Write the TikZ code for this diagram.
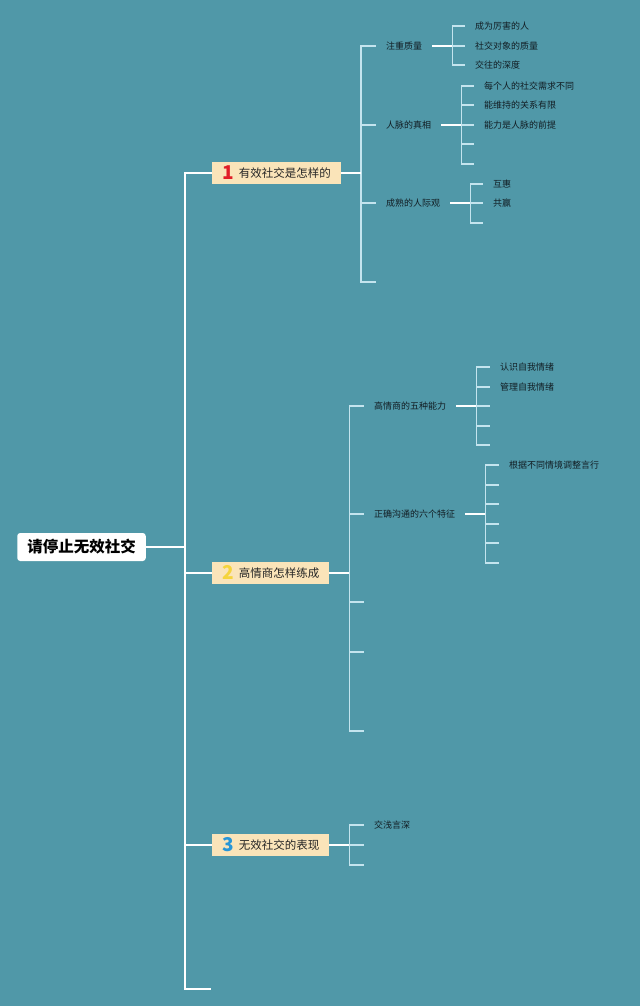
\documentclass[tikz,border=0pt]{standalone}
\usepackage{fontspec}
\usepackage{tikz}
\usetikzlibrary{positioning}
\setmainfont{Noto Sans CJK SC}
\definecolor{bgteal}{RGB}{80,152,168}
\definecolor{linkC}{RGB}{196,228,238}
\definecolor{boxY}{RGB}{250,228,185}
\definecolor{txtD}{RGB}{18,30,36}
\definecolor{numR}{RGB}{225,30,40}
\definecolor{numY}{RGB}{245,212,60}
\definecolor{numB}{RGB}{40,150,215}
\newcommand{\tnum}[2]{\smash{\raisebox{-2pt}{\color{#1}\fontsize{19}{19}\selectfont\bfseries #2}}\hspace{5pt}}

\begin{document}
\begin{tikzpicture}[x=1pt, y=-1pt, font=\fontsize{9}{11}\selectfont, text=txtD,
  rootnd/.style={rectangle, rounded corners=3pt, fill=white, inner xsep=10pt, minimum height=28pt,
                 font=\fontsize{15.5}{17}\selectfont\bfseries, text=black},
  topic/.style={rectangle, fill=boxY, inner xsep=10pt, inner ysep=0pt, minimum height=22pt, anchor=west,
                font=\fontsize{11.5}{13}\selectfont, text=black!85},
  sub/.style={inner xsep=10pt, inner ysep=2pt, anchor=west},
  trunk/.style={draw=white, line width=1.1pt},
  brk/.style={draw=linkC, line width=1.1pt}]
  \fill[bgteal] (0,0) rectangle (640,1006);
  \useasboundingbox (0,0) rectangle (640,1006);

  % root and the three topics
  \node[rootnd] (root) at (81.5,547) {请停止无效社交};
  \node[topic] (t1) at (212,173) {\tnum{numR}{1}有效社交是怎样的};
  \node[topic] (t2) at (212,573) {\tnum{numY}{2}高情商怎样练成};
  \node[topic] (t3) at (212,845) {\tnum{numB}{3}无效社交的表现};
  \coordinate (t4) at (211,989);
  \foreach \t in {t1,t2,t3,t4}
    \draw[trunk] (root.east) -- ++(39,0) |- (\t);

  % topic 1
  \node[sub] (a1) at (376,46) {注重质量};
  \node[sub] (a2) at (376,125) {人脉的真相};
  \node[sub] (a3) at (376,203) {成熟的人际观};
  \node[sub] (a4) at (376,282) {};
  \foreach \c in {a1,a2,a3,a4}
    \draw[brk] (t1.east) -- ++(20,0) |- (\c.west);
  \draw[trunk] (t1.east) -- ++(20,0);

  \node[sub] (a11) at (465,26) {成为厉害的人};
  \node[sub] (a12) at (465,46) {社交对象的质量};
  \node[sub] (a13) at (465,65) {交往的深度};
  \foreach \c in {a11,a12,a13}
    \draw[brk] (a1.east) -- ++(20,0) |- (\c.west);
  \draw[trunk] (a1.east) -- ++(20,0);

  \node[sub] (a21) at (474,86) {每个人的社交需求不同};
  \node[sub] (a22) at (474,105) {能维持的关系有限};
  \node[sub] (a23) at (474,125) {能力是人脉的前提};
  \node[sub] (a24) at (474,144) {};
  \node[sub] (a25) at (474,164) {};
  \foreach \c in {a21,a22,a23,a24,a25}
    \draw[brk] (a2.east) -- ++(20,0) |- (\c.west);
  \draw[trunk] (a2.east) -- ++(20,0);

  \node[sub] (a31) at (483,184) {互惠};
  \node[sub] (a32) at (483,203) {共赢};
  \node[sub] (a33) at (483,223) {};
  \foreach \c in {a31,a32,a33}
    \draw[brk] (a3.east) -- ++(20,0) |- (\c.west);
  \draw[trunk] (a3.east) -- ++(20,0);

  % topic 2
  \node[sub] (b1) at (364,406) {高情商的五种能力};
  \node[sub] (b2) at (364,514) {正确沟通的六个特征};
  \node[sub] (b3) at (364,602) {};
  \node[sub] (b4) at (364,652) {};
  \node[sub] (b5) at (364,731) {};
  \foreach \c in {b1,b2,b3,b4,b5}
    \draw[brk] (t2.east) -- ++(20,0) |- (\c.west);
  \draw[trunk] (t2.east) -- ++(20,0);

  \node[sub] (b11) at (490,367) {认识自我情绪};
  \node[sub] (b12) at (490,387) {管理自我情绪};
  \node[sub] (b13) at (490,406) {};
  \node[sub] (b14) at (490,426) {};
  \node[sub] (b15) at (490,445) {};
  \foreach \c in {b11,b12,b13,b14,b15}
    \draw[brk] (b1.east) -- ++(20,0) |- (\c.west);
  \draw[trunk] (b1.east) -- ++(20,0);

  \node[sub] (b21) at (499,465) {根据不同情境调整言行};
  \node[sub] (b22) at (499,485) {};
  \node[sub] (b23) at (499,504) {};
  \node[sub] (b24) at (499,524) {};
  \node[sub] (b25) at (499,543) {};
  \node[sub] (b26) at (499,563) {};
  \foreach \c in {b21,b22,b23,b24,b25,b26}
    \draw[brk] (b2.east) -- ++(20,0) |- (\c.west);
  \draw[trunk] (b2.east) -- ++(20,0);

  % topic 3
  \node[sub] (c1) at (364,825) {交浅言深};
  \node[sub] (c2) at (364,845) {};
  \node[sub] (c3) at (364,865) {};
  \foreach \c in {c1,c2,c3}
    \draw[brk] (t3.east) -- ++(20,0) |- (\c.west);
  \draw[trunk] (t3.east) -- ++(20,0);
\end{tikzpicture}
\end{document}
